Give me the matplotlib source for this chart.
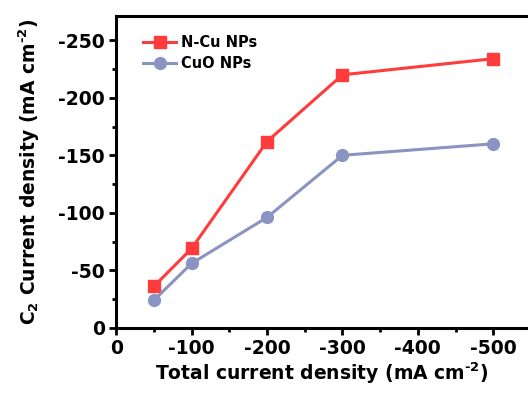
import matplotlib
matplotlib.use("Agg")
import matplotlib.pyplot as plt
from matplotlib.ticker import MultipleLocator, FuncFormatter

plt.rcParams['font.family'] = ['DejaVu Sans']
plt.rcParams['font.weight'] = 'bold'
plt.rcParams['mathtext.fontset'] = 'custom'
plt.rcParams['mathtext.rm'] = 'DejaVu Sans:bold'
plt.rcParams['mathtext.it'] = 'DejaVu Sans:bold'
plt.rcParams['mathtext.bf'] = 'DejaVu Sans:bold'

total_current = [50, 100, 200, 300, 500]
ncu_c2 = [36, 69, 162, 220, 234]
cuo_c2 = [24, 56, 96, 150, 160]
labels = ["N-Cu NPs", "CuO NPs"]

fig = plt.figure(figsize=(5.28, 3.94), dpi=100)
ax = fig.add_axes([0.22, 0.168, 0.78, 0.791])

ax.plot(total_current, ncu_c2, color='#FF3B3B', marker='s', markersize=8, lw=2.2, label=labels[0])
ax.plot(total_current, cuo_c2, color='#8A93C2', marker='o', markersize=8.5, lw=2.2, label=labels[1])

ax.set_xlim(0, 546)
ax.set_ylim(0, 271)
ax.xaxis.set_major_locator(MultipleLocator(100))
ax.xaxis.set_minor_locator(MultipleLocator(50))
ax.yaxis.set_major_locator(MultipleLocator(50))
ax.yaxis.set_minor_locator(MultipleLocator(25))
fmt = FuncFormatter(lambda v, p: "0" if v == 0 else f"-{int(v)}")
ax.xaxis.set_major_formatter(fmt)
ax.yaxis.set_major_formatter(fmt)

for s in ['left', 'bottom', 'top']:
    ax.spines[s].set_linewidth(2.2)
ax.spines['right'].set_visible(False)
ax.tick_params(which='major', direction='out', length=5, width=2, labelsize=13.5, pad=3)
ax.tick_params(which='minor', direction='out', length=3, width=2)
ax.tick_params(top=False, right=False)

ax.set_xlabel("Total current density (mA cm$^{\u2010 2}$)", fontsize=13.5, fontweight='bold', labelpad=2)
ax.set_ylabel("C$_2$ Current density (mA cm$^{\u2010 2}$)", fontsize=13.5, fontweight='bold', labelpad=12)

leg = ax.legend(loc='upper left', bbox_to_anchor=(0.065, 0.94), frameon=False, fontsize=10.5,
                handlelength=2.3, handletextpad=0.3, labelspacing=0.45, borderaxespad=0, borderpad=0)

fig.savefig("out.png", dpi=100)
